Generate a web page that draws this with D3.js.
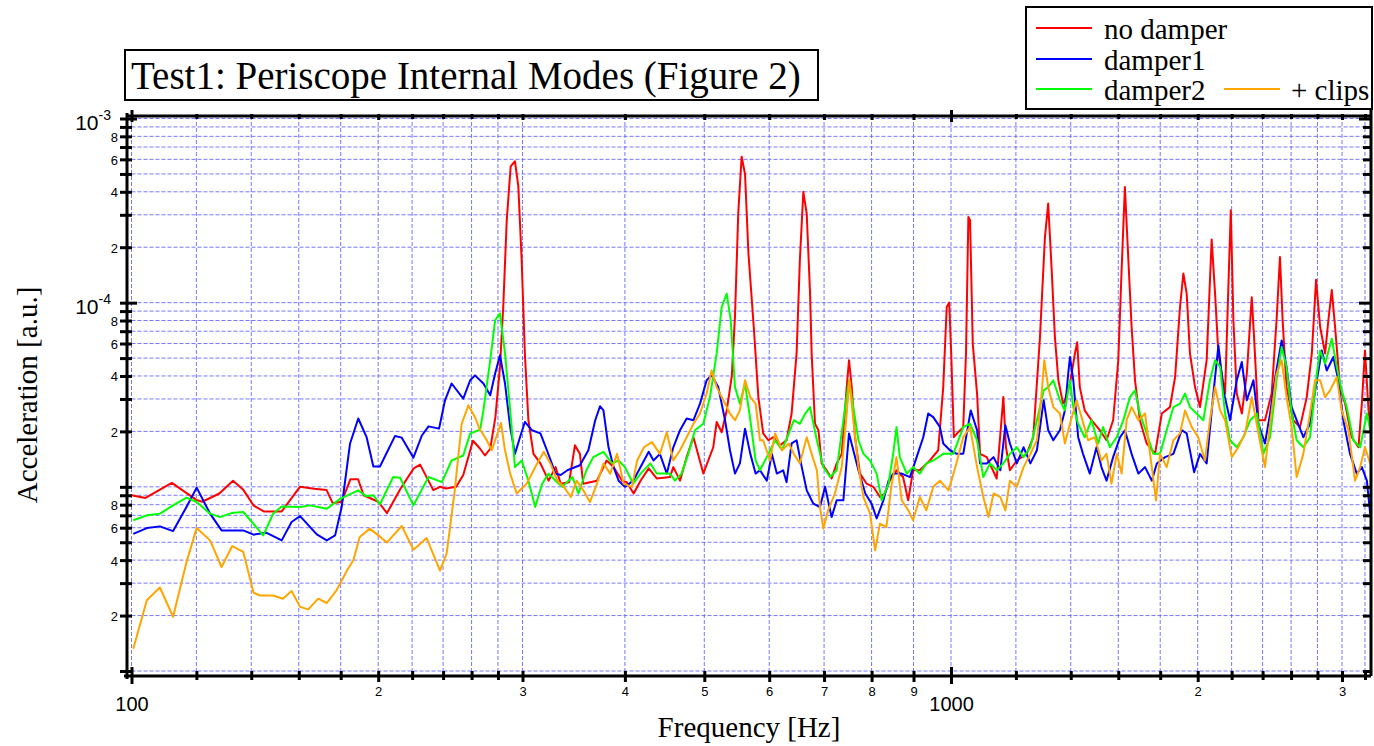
<!DOCTYPE html>
<html>
<head>
<meta charset="utf-8">
<script src="https://cdn.jsdelivr.net/npm/d3@7"></script>
<style>
  body { margin: 0; background: #fff; }
  svg { display: block; }
</style>
</head>
<body>
<svg id="chart" width="1374" height="746"></svg>
<script>
// spectra: [frequency Hz, acceleration a.u.]
var noDamper = [
  [100,9.0e-6],[104,8.7e-6],[112,1.05e-5],[120,8.5e-6],[122,8.3e-6],[128,9.2e-6],[133,1.08e-5],[137,9.6e-6],[141,7.9e-6],[145,7.35e-6],
  [152.5,7.35e-6],[160.5,1.0e-5],[167,9.75e-6],[173,9.6e-6],[176,8.15e-6],[180.5,8.3e-6],[185,1.1e-5],[189,1.1e-5],[192,9.0e-6],[200,8.3e-6],
  [205,7.2e-6],[213,9.8e-6],[221,1.26e-5],[225,1.32e-5],[233.5,9.6e-6],[238,1.0e-5],[242,9.8e-6],[249,1.0e-5],[254,1.16e-5],[261,1.78e-5],
  [266,1.62e-5],[270,1.48e-5],[274,1.61e-5],[278,2.39e-5],[281.6,4.48e-5],[284.2,9.5e-5],[287,2.8e-4],[290.2,5.5e-4],[293.7,5.86e-4],[296.5,4.28e-4],
  [299.3,1.7e-4],[302,5.3e-5],[305,2.3e-5],[309.4,1.51e-5],[315.5,1.34e-5],[322.8,1.08e-5],[329.2,1.28e-5],[334,1.04e-5],[342,1.06e-5],[347.6,1.68e-5],
  [352.5,1.51e-5],[355.8,1.04e-5],[369.8,1.08e-5],[380,1.39e-5],[387.5,1.28e-5],[396.8,1.08e-5],[402,1.06e-5],[410,9.2e-6],[418,1.08e-5],[427.7,1.26e-5],
  [437.4,1.11e-5],[454,1.13e-5],[458.3,1.28e-5],[467,1.08e-5],[475.8,1.45e-5],[485,1.86e-5],[498.6,1.18e-5],[512.7,1.64e-5],[517.7,2.25e-5],[525,1.98e-5],
  [532.5,2.6e-5],[540,3.95e-5],[545,8.4e-5],[550,3.05e-4],[555.3,6.2e-4],[560.6,5.0e-4],[566,1.85e-4],[574.5,7.4e-5],[582,3.07e-5],[590,1.95e-5],
  [598.5,1.79e-5],[607,1.86e-5],[618.4,1.68e-5],[630,1.79e-5],[639,2.5e-5],[648,5.3e-5],[654,1.7e-4],[660.4,4.0e-4],[666.7,3.05e-4],[673,1.12e-4],
  [676,5.3e-5],[682.4,2.2e-5],[689,2.03e-5],[695.3,1.34e-5],[705,1.23e-5],[715,1.11e-5],[725.3,1.34e-5],[735.6,1.51e-5],[746,3.48e-5],[750.8,4.87e-5],
  [756.6,3.48e-5],[763.6,1.86e-5],[774.3,1.18e-5],[789,1.04e-5],[804,1.0e-5],[819,8.8e-6],[830,9.2e-6],[842,1.08e-5],[858,1.23e-5],[874,1.13e-5],
  [886.6,8.45e-6],[899,1.23e-5],[916,1.23e-5],[942.5,1.39e-5],[964.7,1.58e-5],[978.4,3.48e-5],[988,9.47e-5],[995,1.0e-4],[1000.6,5.3e-5],[1008,1.86e-5],
  [1020.5,1.98e-5],[1035,2.11e-5],[1043,5.3e-5],[1050,2.92e-4],[1055,2.8e-4],[1063,6.0e-5],[1076,3.2e-5],[1085,1.51e-5],[1105.6,1.45e-5],[1137,1.11e-5],
  [1158.5,3.07e-5],[1167,1.64e-5],[1180,1.23e-5],[1203,1.39e-5],[1237,1.51e-5],[1260,1.86e-5],[1284,6.5e-5],[1302,2.27e-4],[1314,3.45e-4],[1327,1.5e-4],
  [1339,6.5e-5],[1352,3.79e-5],[1370,2.83e-5],[1377,2.95e-5],[1397,3.64e-5],[1416.5,5.3e-5],[1425.6,6.1e-5],[1436,3.48e-5],[1456,2.6e-5],[1484,2.3e-5],
  [1519,2.03e-5],[1548,1.79e-5],[1577,2.3e-5],[1600,4.87e-5],[1615,1.5e-4],[1630,4.25e-4],[1646,1.7e-4],[1661,7.4e-5],[1677,3.79e-5],[1700,2.3e-5],
  [1733,1.72e-5],[1774,1.51e-5],[1808,2.5e-5],[1850,2.71e-5],[1877,3.95e-5],[1903,9.47e-5],[1921,1.44e-4],[1939,1.12e-4],[1957,5.3e-5],[1985,3.48e-5],
  [2013,2.71e-5],[2051,4.87e-5],[2080,2.2e-4],[2100,1.12e-4],[2119.5,5.3e-5],[2160,3.21e-5],[2180,1.22e-4],[2195,3.18e-4],[2211,8.0e-5],[2232,3.21e-5],
  [2264,2.5e-5],[2296,4.12e-5],[2328,1.07e-4],[2343,6.5e-5],[2372,2.3e-5],[2416,2.3e-5],[2462,3.21e-5],[2496,8.0e-5],[2520,1.77e-4],[2539,8.0e-5],
  [2567,3.48e-5],[2616,2.3e-5],[2666,2.11e-5],[2717,3.07e-5],[2756,5.3e-5],[2789,1.33e-4],[2821,7.4e-5],[2861,5.3e-5],[2887,8.0e-5],[2915,1.17e-4],
  [2942,7.4e-5],[2983,3.48e-5],[3026,2.83e-5],[3083,1.86e-5],[3142,1.64e-5],[3172,2.83e-5],[3200,5.5e-5],[3232,2.6e-5],[3260,1.86e-5]
];

var damper1 = [
  [100.5,5.55e-6],[104.4,5.97e-6],[108.3,6.1e-6],[112.4,5.75e-6],[116.7,7.77e-6],[120.1,9.9e-6],[124.7,7.15e-6],[128.8,5.8e-6],[136.9,5.8e-6],[140.9,5.5e-6],
  [146,5.64e-6],[152.5,5.12e-6],[156.8,6.44e-6],[160.6,6.94e-6],[168.3,5.52e-6],[173.1,5.12e-6],[177.2,5.45e-6],[180.5,7.77e-6],[184.8,1.72e-5],[189.1,2.35e-5],
  [193.6,1.86e-5],[197.3,1.29e-5],[201,1.29e-5],[209.7,1.89e-5],[213.7,1.85e-5],[220.8,1.44e-5],[226.1,1.9e-5],[230.4,2.13e-5],[237.3,2.07e-5],[241.3,2.95e-5],
  [245.8,3.64e-5],[254,3.01e-5],[259,3.79e-5],[262.5,4.03e-5],[268.8,3.64e-5],[274,3.14e-5],[277.8,4.12e-5],[281.6,5.18e-5],[285.6,3.64e-5],[289.8,2.11e-5],
  [293.7,1.51e-5],[297.9,1.86e-5],[302,2.25e-5],[308,2.03e-5],[315.5,1.95e-5],[321.3,1.58e-5],[329.2,1.18e-5],[334,1.16e-5],[340.3,1.23e-5],[352.5,1.31e-5],
  [361,1.58e-5],[368,2.3e-5],[373,2.74e-5],[376.6,2.6e-5],[382,1.64e-5],[387.5,1.28e-5],[393,1.08e-5],[400,1.0e-5],[409.5,1.08e-5],[418,1.28e-5],
  [427.7,1.55e-5],[433.5,1.39e-5],[441.3,1.51e-5],[450,1.18e-5],[458.3,1.64e-5],[467,2.03e-5],[475.8,2.35e-5],[485,2.3e-5],[494,2.83e-5],[503.3,3.79e-5],
  [510.3,4.03e-5],[520,3.48e-5],[530,2.3e-5],[537.4,1.58e-5],[545,1.18e-5],[552.6,1.34e-5],[560.6,2.07e-5],[569,1.51e-5],[577.5,1.18e-5],[584.7,1.23e-5],
  [596,1.08e-5],[604.5,1.51e-5],[613,1.18e-5],[624,1.23e-5],[630,1.06e-5],[639,1.72e-5],[648,1.79e-5],[657.5,1.28e-5],[666.7,9.57e-6],[679.2,8.1e-6],
  [692,7.77e-6],[702,1.0e-5],[715,6.85e-6],[725.3,8.45e-6],[739,8.45e-6],[750.8,1.95e-5],[760,1.58e-5],[771,1.23e-5],[786,9.2e-6],[800,8.1e-6],
  [811.5,6.73e-6],[827,8.45e-6],[839,1.08e-5],[850,1.18e-5],[871,1.18e-5],[891,1.13e-5],[908,1.45e-5],[925,1.86e-5],[938,2.5e-5],[951.3,2.39e-5],
  [969.5,2.11e-5],[978.4,1.72e-5],[997,1.58e-5],[1016,1.51e-5],[1035,1.51e-5],[1057,2.6e-5],[1076,2.03e-5],[1085,1.34e-5],[1105.6,1.34e-5],[1127,1.45e-5],
  [1148.7,1.23e-5],[1165,2.16e-5],[1180,1.72e-5],[1203,1.34e-5],[1226,1.64e-5],[1250,1.34e-5],[1273,1.58e-5],[1297.5,2.95e-5],[1314,2.03e-5],[1333,1.79e-5],
  [1358,2.03e-5],[1377,2.6e-5],[1390,4.12e-5],[1397,5.07e-5],[1410,3.79e-5],[1429.5,1.86e-5],[1449,1.51e-5],[1477,1.18e-5],[1505,1.64e-5],[1526,1.28e-5],
  [1548,1.08e-5],[1577,1.45e-5],[1608,1.86e-5],[1630,2.03e-5],[1661,1.51e-5],[1693,1.18e-5],[1725,1.28e-5],[1758,1.08e-5],[1783,1.34e-5],[1825,1.45e-5],
  [1868,1.51e-5],[1912,2.03e-5],[1939,1.95e-5],[1980,1.2e-5],[2013,1.51e-5],[2051,1.34e-5],[2090,3.21e-5],[2120,5.86e-5],[2150,3.34e-5],[2190,2.3e-5],
  [2232,3.79e-5],[2264,4.76e-5],[2296,2.95e-5],[2339,3.79e-5],[2372,2.2e-5],[2416,1.72e-5],[2451,2.5e-5],[2491,4.12e-5],[2532,6.24e-5],[2567,4.48e-5],
  [2604,2.71e-5],[2641,2.3e-5],[2691,1.86e-5],[2742,2.2e-5],[2795,3.79e-5],[2834,5.5e-5],[2874,4.28e-5],[2928,5.07e-5],[2969,3.79e-5],[3011,2.3e-5],
  [3068,1.51e-5],[3127,1.18e-5],[3172,1.28e-5],[3217,1.08e-5],[3247,7.15e-6]
];

var damper2 = [
  [100.5,6.58e-6],[104.4,7.0e-6],[108.3,7.15e-6],[112.4,7.93e-6],[116.7,8.73e-6],[120.1,8.27e-6],[124.7,7.15e-6],[128.2,6.85e-6],[132.4,7.2e-6],[136.9,7.3e-6],
  [144.8,5.45e-6],[148.9,7.15e-6],[152.5,7.83e-6],[160.6,7.77e-6],[165.1,7.93e-6],[173.1,7.6e-6],[179.7,8.6e-6],[189.1,9.57e-6],[193.6,8.88e-6],[197.3,9.0e-6],
  [201,8.04e-6],[208.6,1.13e-5],[212.7,1.12e-5],[220.8,7.93e-6],[230.4,1.13e-5],[239.2,1.06e-5],[245.8,1.39e-5],[254,1.48e-5],[259,1.95e-5],[266.3,2.04e-5],
  [268.8,2.6e-5],[274,4.87e-5],[277.8,8.03e-5],[281.6,8.74e-5],[285.6,5.3e-5],[289.8,2.6e-5],[293.7,1.28e-5],[299.3,1.39e-5],[305,1.08e-5],[310.9,7.77e-6],
  [317,1.04e-5],[322.8,1.18e-5],[329.2,1.08e-5],[335.5,1.0e-5],[345.2,1.13e-5],[351,9.2e-6],[359,1.23e-5],[366,1.45e-5],[376.6,1.55e-5],[385.7,1.34e-5],
  [393,1.39e-5],[400,1.28e-5],[409.5,1.04e-5],[418,1.18e-5],[429.7,1.34e-5],[437.4,1.18e-5],[454,1.18e-5],[460.5,1.08e-5],[469,1.18e-5],[478,1.51e-5],
  [487,2.03e-5],[498.6,2.2e-5],[508,3.07e-5],[517.7,5.3e-5],[525,9.47e-5],[532.5,1.12e-4],[538.5,8.03e-5],[545,3.48e-5],[552.6,2.83e-5],[560.6,3.64e-5],
  [569,2.3e-5],[577.5,1.39e-5],[584.7,1.23e-5],[598.5,1.51e-5],[610,1.79e-5],[622,1.58e-5],[634,1.95e-5],[643,2.3e-5],[654,2.2e-5],[664,2.5e-5],
  [673,2.71e-5],[686,1.79e-5],[698.5,1.28e-5],[712,1.13e-5],[725.3,1.23e-5],[739,2.3e-5],[750.8,3.79e-5],[760,2.71e-5],[771,1.79e-5],[782,1.51e-5],
  [796.5,1.39e-5],[811.5,1.18e-5],[823,8.45e-6],[839,1.04e-5],[850,1.51e-5],[858,2.11e-5],[866,1.45e-5],[883,1.18e-5],[899,1.28e-5],[916,1.18e-5],
  [933,1.34e-5],[951.3,1.39e-5],[978.4,1.51e-5],[1006.5,1.51e-5],[1035,2.11e-5],[1055,2.2e-5],[1076,1.79e-5],[1095,1.13e-5],[1116,1.34e-5],[1137,1.23e-5],
  [1158.5,1.34e-5],[1180,1.51e-5],[1203,1.64e-5],[1226,1.45e-5],[1250,1.64e-5],[1273,2.3e-5],[1297.5,3.34e-5],[1314,3.48e-5],[1333,3.79e-5],[1358,2.95e-5],
  [1377,2.6e-5],[1397,3.79e-5],[1410,2.71e-5],[1429.5,2.2e-5],[1456,1.86e-5],[1484,2.3e-5],[1512,1.72e-5],[1533,2.11e-5],[1562.5,1.64e-5],[1593,1.86e-5],
  [1623,2.3e-5],[1653,3.07e-5],[1677,3.34e-5],[1700,2.5e-5],[1733,1.95e-5],[1766,1.51e-5],[1799,1.51e-5],[1833,2.03e-5],[1868,2.71e-5],[1903,2.83e-5],
  [1930,3.21e-5],[1957,2.71e-5],[1994,2.5e-5],[2032,2.3e-5],[2070,3.79e-5],[2100,4.87e-5],[2130,4.48e-5],[2160,2.5e-5],[2190,1.79e-5],[2232,1.64e-5],
  [2274,1.86e-5],[2318,2.3e-5],[2362,2.5e-5],[2405,1.51e-5],[2451,1.86e-5],[2496,3.79e-5],[2532,5.74e-5],[2567,4.48e-5],[2604,2.5e-5],[2641,1.79e-5],
  [2691,1.64e-5],[2742,1.86e-5],[2795,4.12e-5],[2821,5.5e-5],[2861,4.67e-5],[2915,6.37e-5],[2956,4.48e-5],[2997,3.34e-5],[3040,2.71e-5],[3097,1.79e-5],
  [3157,1.64e-5],[3217,2.5e-5],[3260,1.86e-5]
];

var clips = [
  [100.5,1.32e-6],[104.4,2.42e-6],[108.3,2.84e-6],[112.4,1.97e-6],[116.7,3.9e-6],[120.1,5.97e-6],[124.7,5.12e-6],[128.8,3.67e-6],[132.7,4.77e-6],[136.9,4.43e-6],
  [140.9,2.66e-6],[143.5,2.57e-6],[148.9,2.57e-6],[153,2.47e-6],[156.8,2.72e-6],[160.6,2.23e-6],[164.3,2.16e-6],[169,2.47e-6],[173.1,2.34e-6],[177.9,2.74e-6],
  [183.2,3.51e-6],[186.5,3.99e-6],[189.9,5.34e-6],[195.3,5.93e-6],[200.1,5.45e-6],[204.9,4.98e-6],[213.7,6.13e-6],[220.8,4.56e-6],[229.2,5.27e-6],[237.9,3.51e-6],
  [242.4,4.34e-6],[248,9.57e-6],[252.9,2.2e-5],[257.7,2.77e-5],[262.5,2.39e-5],[266.3,2.03e-5],[267.6,1.98e-5],[271.3,1.79e-5],[275.2,1.58e-5],[279.1,1.9e-5],
  [282.4,2.22e-5],[285.6,1.58e-5],[289.8,1.18e-5],[295.1,9.2e-6],[303.5,1.04e-5],[310.9,1.28e-5],[318.5,1.55e-5],[324.5,1.34e-5],[330.8,1.08e-5],[337,1.0e-5],
  [343.6,8.8e-6],[349.3,1.08e-5],[355.8,9.57e-6],[362.6,8.27e-6],[369.8,1.04e-5],[376.6,1.34e-5],[383.8,1.18e-5],[391.3,1.51e-5],[398.6,1.04e-5],[408,1.0e-5],
  [414,1.39e-5],[422,1.64e-5],[431.6,1.75e-5],[441.3,1.51e-5],[450,1.98e-5],[458.3,1.39e-5],[467,1.58e-5],[475.8,1.86e-5],[485,2.2e-5],[494,2.5e-5],
  [503.3,3.21e-5],[510.3,4.28e-5],[517.7,3.48e-5],[527.4,2.95e-5],[537.4,2.5e-5],[545,2.3e-5],[552.6,2.6e-5],[560.6,3.79e-5],[569,3.07e-5],[577.5,2.83e-5],
  [584.7,1.79e-5],[590,1.79e-5],[601.4,1.39e-5],[610,1.95e-5],[622,1.58e-5],[634,1.72e-5],[643,1.51e-5],[654,1.34e-5],[666.7,1.86e-5],[676,1.51e-5],
  [686,1.23e-5],[692,7.77e-6],[698.5,5.93e-6],[708,7.45e-6],[721.6,9.2e-6],[735.6,1.28e-5],[746,2.5e-5],[751.5,3.79e-5],[760,2.3e-5],[771,1.28e-5],
  [782,8.8e-6],[796.5,7.15e-6],[808,4.52e-6],[819,6.31e-6],[834,6.05e-6],[845.6,1.0e-5],[858,1.45e-5],[870.5,8.45e-6],[887,7.45e-6],[899,6.58e-6],
  [916,8.8e-6],[933,7.45e-6],[951.3,1.0e-5],[969.5,1.08e-5],[993,9.57e-6],[1012.5,1.28e-5],[1035,1.86e-5],[1055,2.11e-5],[1076,1.28e-5],[1095,8.8e-6],
  [1111,6.85e-6],[1127,9.2e-6],[1148.7,8.8e-6],[1165,7.45e-6],[1180,1.08e-5],[1203,1.0e-5],[1226,1.28e-5],[1250,1.51e-5],[1273,1.79e-5],[1291,3.34e-5],
  [1299.5,4.87e-5],[1314,3.48e-5],[1333,2.71e-5],[1358,2.5e-5],[1377,1.72e-5],[1397,2.2e-5],[1423,2.95e-5],[1443,2.39e-5],[1470,1.79e-5],[1498,1.86e-5],
  [1526,1.39e-5],[1548,1.51e-5],[1570,1.04e-5],[1593,1.51e-5],[1615,1.18e-5],[1638,2.3e-5],[1661,2.71e-5],[1693,2.3e-5],[1725,2.5e-5],[1749.5,1.51e-5],
  [1779,8.45e-6],[1799,1.51e-5],[1833,1.28e-5],[1868,1.79e-5],[1903,1.95e-5],[1930,2.6e-5],[1967,2.11e-5],[2003,1.86e-5],[2041,1.39e-5],[2070,2.3e-5],
  [2100,3.48e-5],[2130,2.6e-5],[2160,2.3e-5],[2201,1.45e-5],[2242,1.64e-5],[2285,1.95e-5],[2328,3.07e-5],[2372,1.95e-5],[2416,1.28e-5],[2451,2.2e-5],
  [2496,4.12e-5],[2532,4.87e-5],[2567,3.07e-5],[2604,2.11e-5],[2641,1.13e-5],[2691,1.51e-5],[2742,2.5e-5],[2781,3.79e-5],[2821,3.79e-5],[2861,3.07e-5],
  [2901,3.34e-5],[2956,3.95e-5],[2997,2.6e-5],[3054,2.03e-5],[3112,1.08e-5],[3157,1.28e-5],[3200,1.64e-5],[3247,1.34e-5]
];

var seriesNames = ["no damper", "damper1", "damper2", "+ clips"];
var seriesColors = ["#ff0000", "#0000ff", "#00ff00", "#ffa500"];

var xTicks = [100,120,140,160,180,200,220,240,260,280,300,400,500,600,700,800,900,
              1000,1200,1400,1600,1800,2000,2200,2400,2600,2800,3000,3200];
var xTickLabels = {100:"100",200:"2",300:"3",400:"4",500:"5",600:"6",700:"7",800:"8",900:"9",
                   1000:"1000",2000:"2",3000:"3"};
var yTicks = [1e-6,2e-6,3e-6,4e-6,5e-6,6e-6,7e-6,8e-6,9e-6,
              1e-5,2e-5,3e-5,4e-5,5e-5,6e-5,7e-5,8e-5,9e-5,
              1e-4,2e-4,3e-4,4e-4,5e-4,6e-4,7e-4,8e-4,9e-4,1e-3];
var yDecades = {"1e-6":"-6","1e-5":"-5","0.0001":"-4","0.001":"-3"};
var yMinorLabels = [2,4,6,8];

var serif = "'Liberation Serif','Times New Roman',serif";
var sans = "'Liberation Sans',Arial,sans-serif";

var svg = d3.select("#chart");
svg.append("rect").attr("width", 1374).attr("height", 746).attr("fill", "#fff");

var plot = {left: 131.5, right: 1370.5, top: 118.5, bottom: 671};
var frame = {left: 127, right: 1371, top: 116, bottom: 676};

var x = d3.scaleLog().domain([100, 3250]).range([plot.left, plot.right]);
var y = d3.scaleLog().domain([1e-6, 1e-3]).range([plot.bottom, plot.top]);

function mantissa(v) {
  return Math.round(v / Math.pow(10, Math.floor(Math.log10(v) + 1e-9)));
}

// grid
var grid = svg.append("g").attr("class", "grid")
  .attr("stroke", "#5f5fff").attr("stroke-opacity", 0.85)
  .attr("stroke-width", 1).attr("stroke-dasharray", "4,2");
grid.selectAll(".vx").data(xTicks).enter().append("line")
  .attr("x1", d => x(d)).attr("x2", d => x(d))
  .attr("y1", frame.top).attr("y2", plot.bottom);
grid.selectAll(".hy").data(yTicks).enter().append("line")
  .attr("x1", plot.left).attr("x2", frame.right)
  .attr("y1", d => y(d)).attr("y2", d => y(d));

// curves
svg.append("clipPath").attr("id", "clip").append("rect")
  .attr("x", plot.left).attr("y", frame.top)
  .attr("width", frame.right - plot.left).attr("height", plot.bottom - frame.top);

var line = d3.line().x(d => x(d[0])).y(d => y(d[1]));
var allSeries = [noDamper, damper1, damper2, clips];

svg.append("g").attr("clip-path", "url(#clip)")
  .selectAll("path").data(allSeries).enter().append("path")
  .attr("d", line)
  .attr("fill", "none")
  .attr("stroke", (d, i) => seriesColors[i])
  .attr("stroke-width", 2)
  .attr("stroke-linejoin", "round");

// frame
var box = svg.append("g").attr("stroke", "#000").attr("stroke-width", 3);
box.append("line").attr("x1", frame.left).attr("x2", frame.left).attr("y1", frame.top - 3).attr("y2", frame.bottom + 3);
box.append("line").attr("x1", frame.left - 3).attr("x2", frame.right).attr("y1", frame.bottom).attr("y2", frame.bottom);
box.append("line").attr("x1", frame.left).attr("x2", frame.right).attr("y1", frame.top).attr("y2", frame.top);
box.append("line").attr("x1", frame.right).attr("x2", frame.right).attr("y1", 108).attr("y2", frame.bottom);

// bottom axis
var xAxis = d3.axisBottom(x).tickValues(xTicks).tickSize(0)
  .tickFormat(d => xTickLabels[d] || "");
var gx = svg.append("g").attr("transform", "translate(0," + frame.bottom + ")").call(xAxis);
gx.select(".domain").remove();
gx.selectAll(".tick line")
  .attr("stroke", "#000").attr("stroke-width", 3)
  .attr("y1", d => (d === 100 || d === 1000) ? -9 : -5)
  .attr("y2", d => (d === 100 || d === 1000) ? 8 : (xTickLabels[d] ? 6 : 4));
gx.selectAll(".tick text")
  .attr("fill", "#000")
  .attr("dy", null)
  .attr("y", d => (d === 100 || d === 1000) ? 35 : 20)
  .style("font-family", sans)
  .style("font-size", d => (d === 100 || d === 1000) ? "20px" : "13px");

// top axis ticks
var gt = svg.append("g").attr("transform", "translate(0," + frame.top + ")")
  .call(d3.axisTop(x).tickValues(xTicks).tickSize(0).tickFormat(""));
gt.select(".domain").remove();
gt.selectAll(".tick line").attr("stroke", "#000").attr("stroke-width", 3)
  .attr("y1", d => (d === 100 || d === 1000) ? -6 : -2)
  .attr("y2", d => (d === 100 || d === 1000) ? 6 : (xTickLabels[d] ? 4 : 3));

// left axis
var yAxis = d3.axisLeft(y).tickValues(yTicks).tickSize(0).tickFormat("");
var gy = svg.append("g").attr("transform", "translate(" + frame.left + ",0)").call(yAxis);
gy.select(".domain").remove();
gy.selectAll(".tick line").attr("stroke", "#000").attr("stroke-width", 3)
  .attr("x1", -7)
  .attr("x2", d => yDecades[String(d)] ? 10 : 5);
gy.selectAll(".tick text").each(function (d) {
  var t = d3.select(this).attr("dy", null).attr("fill", "#000").style("font-family", sans);
  var exp = yDecades[String(d)];
  if (exp) {
    t.attr("x", -16).attr("y", 11).attr("text-anchor", "end");
    t.append("tspan").style("font-size", "21px").text("10");
    t.append("tspan").style("font-size", "14px").attr("dy", -10).text(exp);
  } else if (yMinorLabels.indexOf(mantissa(d)) >= 0) {
    t.attr("x", -9).attr("y", 5).attr("text-anchor", "end")
      .style("font-size", "13px").text(mantissa(d));
  }
});

// right axis ticks
var gr = svg.append("g").attr("transform", "translate(" + frame.right + ",0)")
  .call(d3.axisRight(y).tickValues(yTicks).tickSize(0).tickFormat(""));
gr.select(".domain").remove();
gr.selectAll(".tick line").attr("stroke", "#000").attr("stroke-width", 3)
  .attr("x1", d => yDecades[String(d)] ? -12 : -8).attr("x2", 1);

// axis titles
svg.append("text")
  .attr("x", 749).attr("y", 737)
  .attr("text-anchor", "middle")
  .style("font-family", serif).style("font-size", "29px")
  .text("Frequency [Hz]");
svg.append("text")
  .attr("transform", "translate(37,395) rotate(-90)")
  .attr("text-anchor", "middle")
  .style("font-family", serif).style("font-size", "29px")
  .text("Acceleration [a.u.]");

// title
svg.append("rect").attr("x", 125).attr("y", 50).attr("width", 693).attr("height", 50)
  .attr("fill", "#fff").attr("stroke", "#000").attr("stroke-width", 2);
svg.append("text").attr("x", 131).attr("y", 89)
  .style("font-family", serif).style("font-size", "39px")
  .text("Test1: Periscope Internal Modes (Figure 2)");

// legend
var legendPos = [[1036, 28], [1036, 59], [1036, 89], [1224, 89]];
svg.append("rect").attr("x", 1026).attr("y", 7).attr("width", 346).attr("height", 102)
  .attr("fill", "#fff").attr("stroke", "#000").attr("stroke-width", 2);
var lg = svg.selectAll(".legend").data(seriesNames).enter().append("g")
  .attr("class", "legend")
  .attr("transform", (d, i) => "translate(" + legendPos[i][0] + "," + legendPos[i][1] + ")");
lg.append("line").attr("x1", 0).attr("x2", 56).attr("y1", 0).attr("y2", 0)
  .attr("stroke", (d, i) => seriesColors[i]).attr("stroke-width", 2);
lg.append("text").attr("x", d => d === "+ clips" ? 67 : 68).attr("y", 11)
  .style("font-family", serif).style("font-size", "29px")
  .text(d => d);
</script>
</body>
</html>
